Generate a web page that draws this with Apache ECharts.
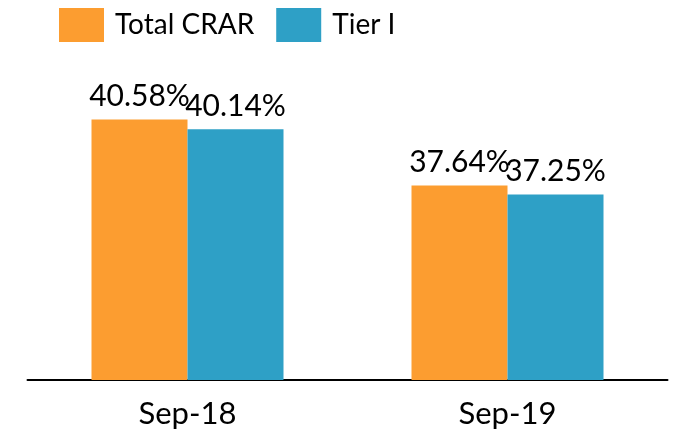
<!DOCTYPE html>
<html>
<head>
<meta charset="utf-8">
<script src="https://cdn.jsdelivr.net/npm/echarts@6/dist/echarts.min.js"></script>
<style>
  html, body { margin: 0; padding: 0; background: #fff; }
  #myChart { width: 679px; height: 431px; }
</style>
</head>
<body>
<div id="myChart"></div>
<script>
// 数据
const categories = ['Sep-18', 'Sep-19'];
const totalCrar = [40.58, 37.64];
const tier1 = [40.14, 37.25];

const myChart = echarts.init(document.getElementById('myChart'));
const font = 'Lato, "Noto Sans", sans-serif';

myChart.setOption({
  animation: false,
  legend: {
    top: 3,
    left: 54,
    itemWidth: 45,
    itemHeight: 34,
    itemGap: 22,
    icon: 'rect',
    textStyle: {
      fontFamily: font,
      fontSize: 28,
      color: '#000',
      padding: [0, 0, 0, 6],
    },
  },
  grid: {
    top: 65,
    left: 27.5,
    right: 11.5,
    bottom: 51,
  },
  xAxis: {
    type: 'category',
    data: categories,
    axisLine: {
      lineStyle: { color: '#000', width: 2 },
    },
    axisTick: { show: false },
    axisLabel: {
      margin: 18,
      fontFamily: font,
      fontSize: 31,
      color: '#000',
    },
  },
  yAxis: {
    type: 'value',
    min: 29,
    max: 43,
    show: false,
    splitLine: { show: false },
  },
  series: [
    {
      name: 'Total CRAR',
      type: 'bar',
      data: totalCrar,
      barWidth: 96,
      barGap: '0%',
      itemStyle: { color: '#FC9D30' },
      label: {
        show: true,
        position: 'top',
        distance: 8,
        fontFamily: font,
        fontSize: 30,
        color: '#000',
        formatter: p => p.value.toFixed(2) + '%',
      },
    },
    {
      name: 'Tier I',
      type: 'bar',
      data: tier1,
      barWidth: 96,
      itemStyle: { color: '#2EA0C6' },
      label: {
        show: true,
        position: 'top',
        distance: 8,
        fontFamily: font,
        fontSize: 30,
        color: '#000',
        formatter: p => p.value.toFixed(2) + '%',
      },
    },
  ],
});
</script>
</body>
</html>
